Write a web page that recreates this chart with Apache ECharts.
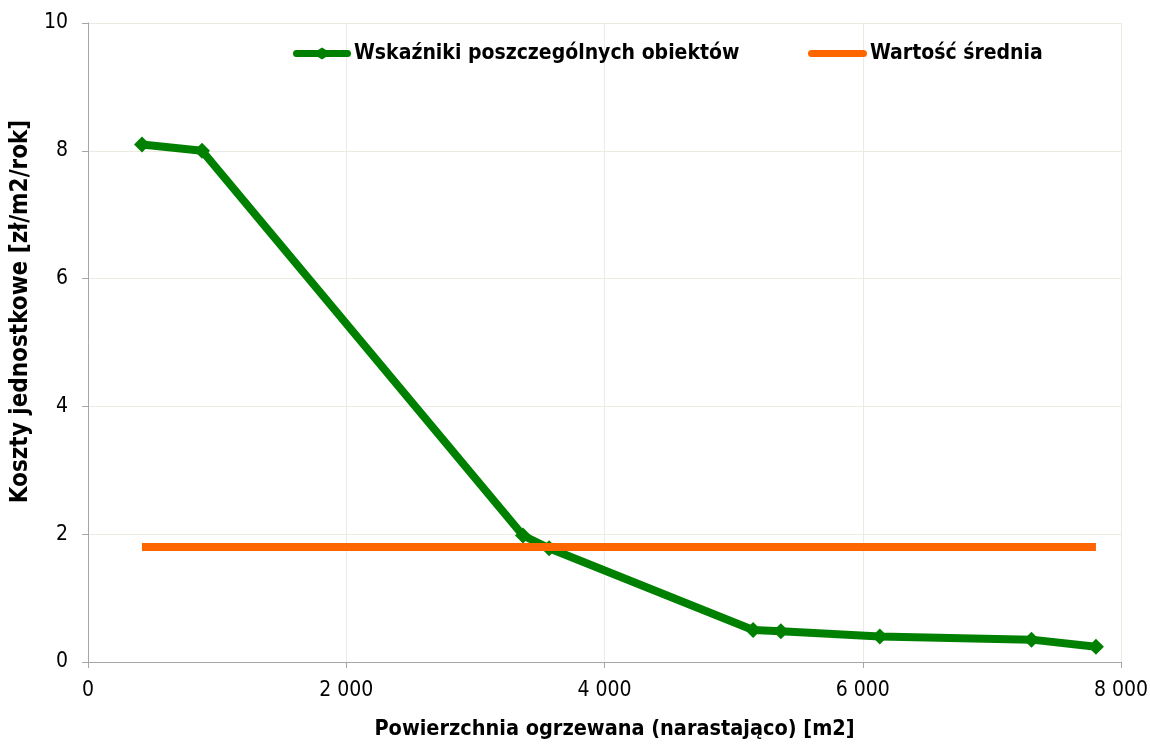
<!DOCTYPE html>
<html><head><meta charset="utf-8">
<script src="https://cdn.jsdelivr.net/npm/echarts@6/dist/echarts.min.js"></script>
<style>html,body{margin:0;padding:0;background:#fff}#c{width:1150px;height:745px}</style>
</head><body><div id="c"></div>
<script>
const areaX = [418, 883, 3369, 3571, 5151, 5366, 6132, 7307, 7806];
const unitCost = [8.10, 8.00, 1.98, 1.78, 0.50, 0.48, 0.40, 0.35, 0.24];
const meanX = [418, 7806];
const meanValue = [1.80, 1.80];
const seriesNames = ['Wskaźniki poszczególnych obiektów', 'Wartość średnia'];

const fontFam = '"DejaVu Sans Condensed", "DejaVu Sans"';
const chart = echarts.init(document.getElementById('c'), null, {renderer: 'canvas'});
chart.setOption({
  animation: false,
  backgroundColor: '#fff',
  grid: {left: 88, right: 29, top: 23, bottom: 83, containLabel: false, outerBoundsMode: 'none'},
  legend: [{
    data: [{name: seriesNames[0],
      icon: 'path://M3.5,2.5 H25 L29,0 L33,2.5 H54.5 A3.5,3.5 0 0 1 54.5,9.5 H33 L29,12 L25,9.5 H3.5 A3.5,3.5 0 0 1 3.5,2.5 Z'}],
    left: 288, top: 38, itemWidth: 58, itemHeight: 12, itemGap: 4,
    textStyle: {fontFamily: fontFam, fontWeight: 'bold', fontSize: 21, color: '#000', padding: [0, 0, 0, -2]}
  }, {
    data: [{name: seriesNames[1],
      icon: 'path://M3.5,0 H54.5 A3.5,3.5 0 0 1 54.5,7 H3.5 A3.5,3.5 0 0 1 3.5,0 Z'}],
    left: 803, top: 38, itemWidth: 59, itemHeight: 8,
    textStyle: {fontFamily: fontFam, fontWeight: 'bold', fontSize: 21, color: '#000', padding: [0, 0, 0, -2]}
  }],
  xAxis: {
    type: 'value', min: 0, max: 8000, interval: 2000,
    name: 'Powierzchnia ogrzewana (narastająco) [m2]', nameLocation: 'middle', nameGap: 56,
    nameTextStyle: {fontFamily: fontFam, fontWeight: 'bold', fontSize: 21.5, color: '#000', padding: [0, 0, 0, 20]},
    axisLine: {show: true, lineStyle: {color: '#a6a6a6', width: 1}},
    axisTick: {show: true, length: 6, lineStyle: {color: '#a6a6a6'}},
    axisLabel: {fontFamily: fontFam, fontSize: 21, color: '#000', margin: 18,
      formatter: v => v === 0 ? '0' : String(v).replace(/\B(?=(\d{3})+(?!\d))/g, ' ')},
    splitLine: {show: true, lineStyle: {color: '#ecebdf', width: 1}}
  },
  yAxis: {
    type: 'value', min: 0, max: 10, interval: 2,
    name: 'Koszty jednostkowe [zł/m2/rok]', nameLocation: 'middle', nameGap: 53,
    nameTextStyle: {fontFamily: fontFam, fontWeight: 'bold', fontSize: 24, color: '#000', padding: [0, 0, 0, 62]},
    axisLine: {show: true, lineStyle: {color: '#a6a6a6', width: 1}},
    axisTick: {show: true, length: 6, lineStyle: {color: '#a6a6a6'}},
    axisLabel: {fontFamily: fontFam, fontSize: 21, color: '#000', margin: 20},
    splitLine: {show: true, lineStyle: {color: '#ecebdf', width: 1}}
  },
  series: [{
    name: seriesNames[0], type: 'line',
    data: areaX.map((x, i) => [x, unitCost[i]]),
    symbol: 'diamond', symbolSize: 16, showAllSymbol: true,
    lineStyle: {color: '#008000', width: 8},
    itemStyle: {color: '#008000'}, z: 2
  }, {
    name: seriesNames[1], type: 'line',
    data: meanX.map((x, i) => [x, meanValue[i]]),
    symbol: 'none',
    lineStyle: {color: '#ff6600', width: 8},
    itemStyle: {color: '#ff6600'}, z: 3
  }]
});
</script></body></html>
